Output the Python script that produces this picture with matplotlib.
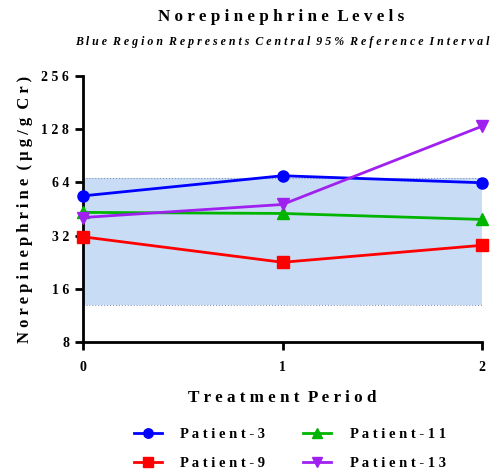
import matplotlib
matplotlib.use("Agg")
import matplotlib.pyplot as plt
from matplotlib.ticker import FixedLocator, FixedFormatter

periods = [0, 1, 2]
patient3 = [53.7, 69.8, 63.7]
patient9 = [31.5, 22.6, 28.2]
patient11 = [43.3, 42.7, 39.5]
patient13 = [40.5, 48.0, 133.0]
ref_low, ref_high = 13.0, 67.4
yticks = [8, 16, 32, 64, 128, 256]

def sp(s, sep=" "):
    return "  ".join(sep.join(w) for w in s.split(" "))

plt.rcParams["font.family"] = ["Liberation Serif", "DejaVu Serif"]
plt.rcParams["font.weight"] = "bold"

fig = plt.figure(figsize=(4.98, 4.76), dpi=100)
ax = fig.add_axes([83/498, 1-342/476, (482-83)/498, (342-76)/476])

ax.set_yscale("log", base=2)
ax.set_ylim(8, 256)
ax.set_xlim(0, 2)

ax.fill_between([0, 2], [ref_low]*2, [ref_high]*2, color="#c8ddf5", lw=0, zorder=1)
ax.plot([0, 2], [ref_high]*2, color="#8899bb", lw=0.8, ls=":", zorder=1.5)
ax.plot([0, 2], [ref_low]*2, color="#8899bb", lw=0.8, ls=":", zorder=1.5)

series = [
    (patient3, "#0000ff", "o", "Patient-3"),
    (patient9, "#ff0000", "s", "Patient-9"),
    (patient11, "#00b400", "^", "Patient-11"),
    (patient13, "#a020f0", "v", "Patient-13"),
]
handles = {}
for vals, col, mk, lab in series:
    h, = ax.plot(periods, vals, color=col, marker=mk, ms=8, lw=2, clip_on=False, zorder=3, label=sp(lab))
    handles[lab] = h

for s in ["top", "right"]:
    ax.spines[s].set_visible(False)
for s in ["left", "bottom"]:
    ax.spines[s].set_linewidth(2)

ax.yaxis.set_major_locator(FixedLocator(yticks))
ax.yaxis.set_major_formatter(FixedFormatter([sp(str(v)) for v in yticks]))
ax.yaxis.set_minor_locator(FixedLocator([]))
ax.set_xticks(periods)
ax.set_xticklabels([str(p) for p in periods])
ax.tick_params(axis="both", width=2, length=6, labelsize=10, direction="out", pad=4)
ax.tick_params(axis="x", pad=8)
for t in ax.get_xticklabels() + ax.get_yticklabels():
    t.set_fontweight("bold")

ax.set_ylabel(sp("Norepinephrine (µg/g Cr)"), fontsize=12, fontweight="bold", labelpad=6)
ax.set_xlabel(sp("Treatment Period"), fontsize=12.3, fontweight="bold", labelpad=11)

fig.text(281/498, 1-17/476, sp("Norepinephrine Levels"), ha="center", va="center", fontsize=12.3, fontweight="bold")
fig.text(282/498, 1-42/476, sp("Blue Region Represents Central 95% Reference Interval"), ha="center", va="center",
         fontsize=8.6, fontweight="bold", style="italic")

order = ["Patient-3", "Patient-9", "Patient-11", "Patient-13"]
leg = fig.legend([handles[k] for k in order], [sp(k) for k in order], ncol=2, loc="center",
                 bbox_to_anchor=(290/498, 1-449/476), frameon=False, fontsize=10.5,
                 handlelength=1.9, columnspacing=2.6, labelspacing=1.05, handletextpad=1.3,
                 markerscale=0.85)
for t in leg.get_texts():
    t.set_fontweight("bold")

fig.savefig("out.png", dpi=100)
